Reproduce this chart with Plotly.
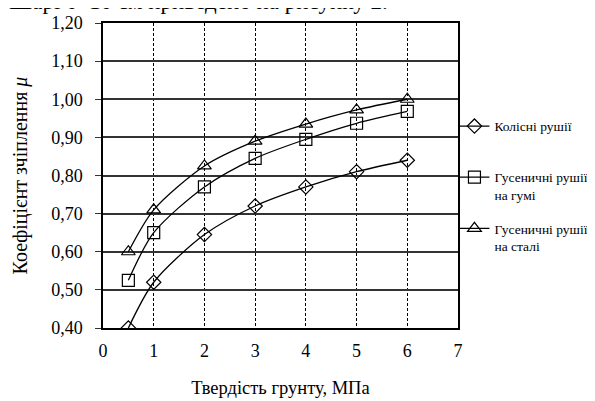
import plotly.graph_objects as go

# soil hardness, MPa
x_vals = [0.5, 1, 2, 3, 4, 5, 6]

# friction coefficient per propulsion type
wheel = [0.40, 0.52, 0.645, 0.72, 0.77, 0.81, 0.84]
track_rubber = [0.525, 0.65, 0.77, 0.845, 0.895, 0.937, 0.968]
track_steel = [0.60, 0.71, 0.825, 0.89, 0.935, 0.972, 1.00]

# empty second line keeps legend rows the same height
names = ["Колісні рушії<br> ", "Гусеничні рушії<br>на гумі", "Гусеничні рушії<br>на сталі"]
symbols = ["diamond-open", "square-open", "triangle-up-open"]

FONT = "Liberation Serif, Times New Roman, serif"

fig = go.Figure()

for i, (series, name, sym) in enumerate(zip([wheel, track_rubber, track_steel], names, symbols)):
    fig.add_trace(
        go.Scatter(
            x=x_vals,
            y=series,
            name=name,
            mode="lines+markers",
            line=dict(color="black", width=1.3, shape="spline", smoothing=0.8),
            marker=dict(symbol=sym, size=12 if sym != "diamond-open" else 11,
                        color="black", line=dict(width=1.2)),
            legendgroup=f"g{i}",
        )
    )

# caption line cut off at the top of the picture
fig.add_annotation(
    text="Шарі 0–10 см приведено на рисунку 2.",
    xref="paper", yref="paper", x=-0.27, y=1, xanchor="left", yanchor="middle",
    yshift=22, showarrow=False, font=dict(size=23, color="black", family=FONT),
)

# page body adds an 8px offset, margins below account for it
fig.update_layout(
    template="none",
    width=595,
    height=401,
    paper_bgcolor="white",
    plot_bgcolor="white",
    separators=", ",
    showlegend=True,
    margin=dict(l=95, r=145, t=15, b=81, autoexpand=False),
    font=dict(family=FONT, color="black", size=15),
    legend=dict(
        x=0.99, y=0.712, xanchor="left", yanchor="top",
        font=dict(size=13.5, family=FONT, color="black"),
        traceorder="grouped",
        tracegroupgap=13,
        itemwidth=30,
        valign="top",
        bgcolor="rgba(0,0,0,0)",
    ),
)

fig.update_xaxes(
    range=[0, 7],
    dtick=1,
    tickformat="d",
    showgrid=True,
    gridcolor="black",
    gridwidth=1,
    griddash="3px,2px",
    showline=True,
    linecolor="black",
    linewidth=1.5,
    mirror=True,
    ticks="",
    ticklabelstandoff=6,
    zeroline=False,
    tickfont=dict(size=18, family=FONT, color="black"),
    title=dict(text="Твердість грунту, МПа", font=dict(size=18.5, family=FONT, color="black"), standoff=21),
)
fig.update_yaxes(
    range=[0.4, 1.2],
    dtick=0.1,
    tickformat=".2f",
    showgrid=True,
    gridcolor="#333333",
    gridwidth=1.5,
    showline=True,
    linecolor="black",
    linewidth=1.5,
    mirror=True,
    ticks="outside",
    ticklen=6,
    tickcolor="#333333",
    ticklabelstandoff=9,
    zeroline=False,
    tickfont=dict(size=18, family=FONT, color="black"),
    title=dict(text="Коефіцієнт зчіплення <i>μ</i>", font=dict(size=20, family=FONT, color="black"), standoff=18),
)

fig.write_html("out.html")
